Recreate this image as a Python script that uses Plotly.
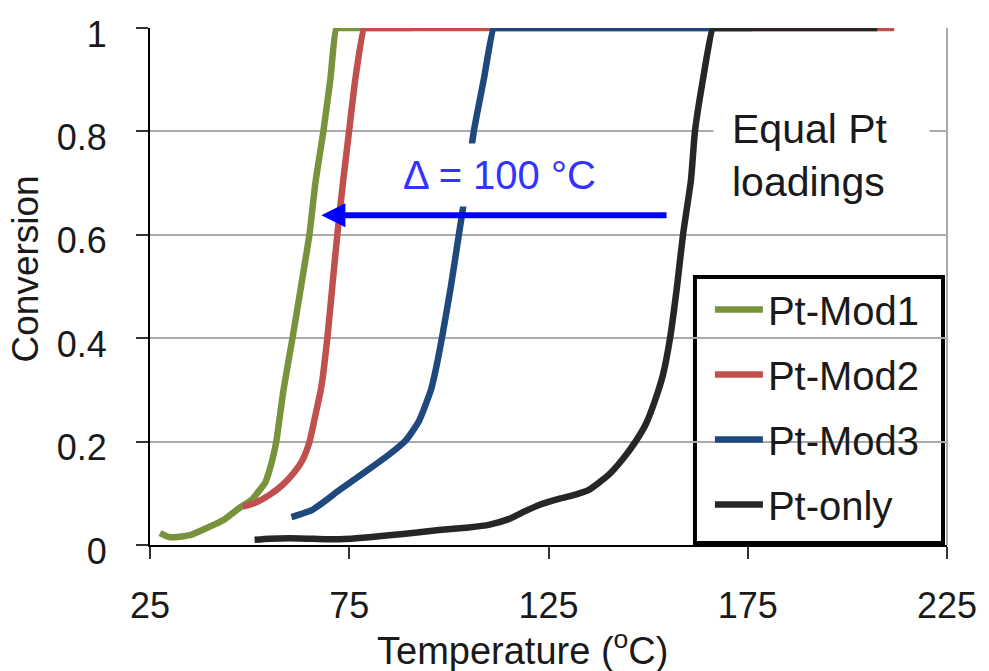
import plotly.graph_objects as go

# ---- data ----
mod1_T = [27.5, 30, 35, 39.25, 43.75, 47.5, 50.5, 52.5, 54, 55, 56, 56.75, 58.5, 60.75, 62.9, 65, 66.5, 68.5, 70.25, 71.75, 72.5, 80, 91]
mod1_C = [0.023, 0.015, 0.019, 0.033, 0.050, 0.072, 0.087, 0.106, 0.122, 0.145, 0.174, 0.203, 0.30, 0.40, 0.50, 0.60, 0.70, 0.80, 0.90, 1.0, 1.0, 1.0, 1.0]

mod2_T = [48.25, 51.25, 55, 58.25, 61.25, 63.25, 65, 66.25, 68, 69.5, 70.75, 72, 73.5, 75, 76.5, 78.75, 79.5, 90, 120, 211.75]
mod2_C = [0.074, 0.081, 0.097, 0.116, 0.141, 0.164, 0.199, 0.242, 0.306, 0.40, 0.50, 0.60, 0.706, 0.803, 0.90, 1.0, 1.0, 1.0, 1.0, 1.0]

mod3_T = [60.5, 65.75, 72.5, 80.75, 85, 89.25, 92.5, 95.5, 97, 98.25, 100.5, 102.5, 104.5, 106.25, 108.75, 111.25, 112, 125, 140, 176]
mod3_C = [0.054, 0.068, 0.106, 0.151, 0.175, 0.203, 0.24, 0.30, 0.35, 0.40, 0.50, 0.60, 0.70, 0.80, 0.90, 1.0, 1.0, 1.0, 1.0, 1.0]

ptonly_T = [51.25, 55, 60, 66, 72.5, 80, 85, 92, 97.5, 105, 110, 115, 119, 122.5, 128, 132, 135, 140, 143.5, 146.75,
            149.5, 151.75, 153.75, 155.5, 157.25, 158.75, 160.75, 161.75, 163.75, 166.25, 167, 180, 207.5]
ptonly_C = [0.010, 0.012, 0.013, 0.012, 0.011, 0.015, 0.019, 0.024, 0.029, 0.034, 0.039, 0.050, 0.065, 0.077, 0.090, 0.098,
            0.106, 0.135, 0.165, 0.199, 0.235, 0.28, 0.33, 0.40, 0.50, 0.60, 0.706, 0.80, 0.90, 1.0, 1.0, 1.0, 1.0]

series_names = ["Pt-Mod1", "Pt-Mod2", "Pt-Mod3", "Pt-only"]
series_colors = ["#77933C", "#C0504D", "#1F497D", "#262626"]
x_ticks = [25, 75, 125, 175, 225]
y_ticks = [0, 0.2, 0.4, 0.6, 0.8, 1]

FONT = "Liberation Sans, Arial, sans-serif"

fig = go.Figure()
for name, color, xs, ys in zip(series_names, series_colors,
                               [mod1_T, mod2_T, mod3_T, ptonly_T],
                               [mod1_C, mod2_C, mod3_C, ptonly_C]):
    fig.add_trace(go.Scatter(x=xs, y=ys, name=name, mode="lines",
                             legendgroup=name,
                             line=dict(color=color, width=6.5, shape="spline", smoothing=0.5)))

fig.update_layout(
    width=989, height=671,
    margin=dict(l=150, r=39, t=28, b=126),
    paper_bgcolor="white", plot_bgcolor="white",
    font=dict(family=FONT, size=36, color="#1a1a1a"),
    showlegend=True,
    legend=dict(x=(712 - 150) / 800, xanchor="left", y=(545 - 277) / 517, yanchor="top",
                bgcolor="rgba(0,0,0,0)", borderwidth=0, itemwidth=48,
                tracegroupgap=10, font=dict(size=40, family=FONT, color="#1a1a1a")),
    xaxis=dict(range=[25, 225], tickvals=x_ticks, showgrid=False, zeroline=False,
               showline=True, linecolor="black", linewidth=2,
               ticks="outside", ticklen=12, tickwidth=2, tickcolor="#333",
               ticklabelstandoff=16),
    yaxis=dict(range=[0, 1], tickvals=y_ticks, showgrid=True, gridcolor="#aaaaaa", gridwidth=2,
               zeroline=False, showline=True, linecolor="black", linewidth=2,
               ticks="outside", ticklen=12, tickwidth=2, tickcolor="#333",
               ticklabelstandoff=22, ticklabelshift=6),
)

# right border of plot area, legend box
fig.add_shape(type="line", xref="paper", yref="paper", x0=1, x1=1, y0=0, y1=1,
              line=dict(color="#aaaaaa", width=2), layer="below")
fig.add_shape(type="rect", xref="paper", yref="paper",
              x0=(697 - 150) / 800, x1=(946 - 150) / 800,
              y0=(545 - 543) / 517, y1=(545 - 277) / 517,
              fillcolor="white", line=dict(color="black", width=4), layer="between")

# axis titles
fig.add_annotation(text="Temperature (<sup>o</sup>C)", xref="paper", yref="paper",
                   x=(524 - 150) / 800, y=(545 - 648) / 517, xanchor="center", yanchor="middle",
                   showarrow=False, font=dict(size=38, family=FONT, color="#1a1a1a"))
fig.add_annotation(text="Conversion", xref="paper", yref="paper",
                   x=(25 - 150) / 800, y=(545 - 269) / 517, xanchor="center", yanchor="middle",
                   textangle=-90, showarrow=False, font=dict(size=37, family=FONT, color="#1a1a1a"))

# arrow and delta text
fig.add_annotation(x=68, y=0.638, ax=155, ay=0.638, xref="x", yref="y", axref="x", ayref="y",
                   text="", showarrow=True, arrowhead=2, arrowsize=0.8, arrowwidth=6,
                   arrowcolor="#0000FF", standoff=0)
fig.add_annotation(x=112.75, y=0.716, xref="x", yref="y", text="\u0394 = 100 \u00b0C",
                   showarrow=False, bgcolor="white", borderpad=9,
                   font=dict(size=40, family=FONT, color="#3333FF"))
fig.add_annotation(x=166.25, y=0.753, xref="x", yref="y", text="Equal Pt<br>loadings",
                   showarrow=False, xanchor="left", align="left", width=179, bgcolor="white",
                   borderpad=18, font=dict(size=41, family=FONT, color="#1a1a1a"))

fig.write_html("out.html")
